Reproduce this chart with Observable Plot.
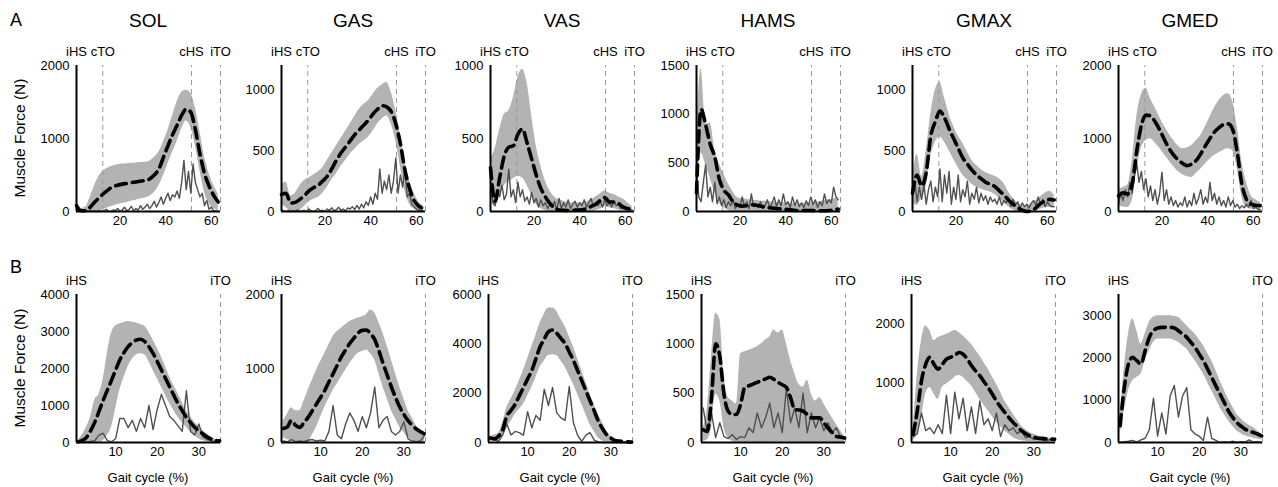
<!DOCTYPE html>
<html><head><meta charset="utf-8">
<script src="https://cdn.jsdelivr.net/npm/d3@7"></script>
<script src="https://cdn.jsdelivr.net/npm/@observablehq/plot@0.6"></script>
<style>
body{margin:0;background:#fff;font-family:"Liberation Sans",Arial,sans-serif;}
#c{position:relative;width:1278px;height:487px;overflow:hidden;background:#fff;}
.abs{position:absolute;white-space:nowrap;line-height:1;color:#000;}
.c{transform:translate(-50%,-50%);}
.rot{transform:translate(-50%,-50%) rotate(-90deg);}
</style></head>
<body><div id="c"></div>
<script>
// ---------- categories / labels ----------
const muscles = ["SOL","GAS","VAS","HAMS","GMAX","GMED"];
const rowLetters = ["A","B"];
const yLabel = "Muscle Force (N)";
const xLabel = "Gait cycle (%)";

// ---------- x grids (gait cycle %) ----------
const xTop = [1,3,5,7,9,11,13,15,17,19,21,23,25,27,29,31,33,35,37,39,41,43,45,47,49,51,53,55,57,59,61,63];
const xTopEmg = [1,2,3,4,5,6,7,8,9,10,11,12,13,14,15,16,17,18,19,20,21,22,23,24,25,26,27,28,29,30,31,32,33,34,35,36,37,38,39,40,41,42,43,44,45,46,47,48,49,50,51,52,53,54,55,56,57,58,59,60,61,62,63];
const xBottom = [1,2,3,4,5,6,7,8,9,10,11,12,13,14,15,16,17,18,19,20,21,22,23,24,25,26,27,28,29,30,31,32,33,34,35];
const xDomainTop = [1,64];
const xDomainBottom = [0.6,35.2];
const xTicksTop = [20,40,60];
const xTicksBottom = [10,20,30];
const eventsTop = [{label:"iHS",x:1,line:false},{label:"cTO",x:12.5,line:true},{label:"cHS",x:51.3,line:true},{label:"iTO",x:64,line:true}];
const eventsBottom = [{label:"iHS",x:0.6,line:false},{label:"iTO",x:35.2,line:true}];

// ---------- y axis extents and ticks ----------
const yMaxTop = [2000,1200,1000,1500,1200,2000];
const yTicksTop = [[0,1000,2000],[0,500,1000],[0,500,1000],[0,500,1000,1500],[0,500,1000],[0,1000,2000]];
const yMaxBottom = [4000,2000,6000,1500,2500,3500];
const yTicksBottom = [[0,1000,2000,3000,4000],[0,1000,2000],[0,2000,4000,6000],[0,500,1000,1500],[0,1000,2000],[0,1000,2000,3000]];

// ---------- Row A (top) series ----------
const solTopMean = [80,10,10,60,130,190,250,300,340,360,375,385,395,405,415,425,445,500,580,740,900,1050,1180,1320,1400,1360,1120,790,520,350,220,130];
const solTopHi   = [100,40,60,200,360,490,560,600,625,640,650,655,660,665,670,675,690,740,810,950,1110,1310,1500,1630,1660,1620,1420,1100,750,520,360,240];
const solTopLo   = [40,0,0,0,0,10,30,55,75,95,110,125,140,155,170,185,210,260,350,490,650,810,960,1130,1240,1150,900,560,260,110,40,10];
const solTopEmg  = [40,20,5,0,5,0,10,0,5,0,15,0,10,30,5,0,20,10,40,5,20,60,10,30,70,10,40,20,80,30,60,100,40,80,140,60,120,200,100,180,250,150,230,200,280,180,400,700,300,550,250,650,400,300,200,250,80,150,30,60,10,5,0];

const gasTopMean = [140,150,70,75,100,130,170,195,215,250,290,350,420,480,530,580,630,670,710,750,800,840,870,860,820,720,560,340,190,90,45,25];
const gasTopHi   = [220,240,130,150,210,255,275,300,325,360,420,480,540,600,660,717,780,840,880,910,960,1010,1040,1060,980,830,640,420,260,150,80,50];
const gasTopLo   = [60,30,0,0,10,40,80,100,115,150,200,260,310,370,420,470,510,550,580,610,660,720,760,785,720,580,370,170,60,20,5,0];
const gasTopEmg  = [10,5,0,10,0,5,0,15,0,5,10,0,20,5,0,10,25,5,10,0,20,10,30,5,15,35,10,20,5,30,20,40,15,50,20,60,30,80,50,120,60,150,100,350,150,250,180,300,150,250,440,150,300,200,350,120,150,60,40,20,10,5,5];

const vasTopMean = [300,70,230,380,440,450,530,565,470,360,250,160,100,55,25,10,8,7,8,10,12,20,35,50,75,95,65,65,55,30,20,15];
const vasTopHi   = [360,430,560,665,690,780,920,975,880,660,450,314,210,140,100,80,70,60,58,58,58,65,80,100,120,140,125,116,100,85,60,35];
const vasTopLo   = [170,30,110,175,205,225,240,230,180,110,50,20,5,0,0,0,0,0,0,0,0,0,0,5,15,35,25,20,10,5,0,0];
const vasTopEmg  = [200,60,40,150,100,180,80,120,290,100,150,60,200,100,150,70,100,50,130,60,90,30,80,40,60,20,50,30,70,10,90,20,60,30,80,20,50,70,30,60,40,80,30,60,90,30,60,40,70,30,80,40,60,30,70,40,50,20,40,30,20,10,10];

const hamsTopMean = [190,1050,890,690,560,330,220,170,100,65,55,60,70,65,55,45,38,33,28,25,20,15,10,10,10,10,8,7,7,10,18,25];
const hamsTopHi   = [750,1470,900,910,640,490,380,280,200,140,130,123,118,112,108,105,100,95,90,88,85,82,80,82,85,88,90,100,110,120,130,140];
const hamsTopLo   = [50,600,480,340,200,90,40,10,0,0,0,0,0,0,0,0,0,0,0,0,0,0,0,0,0,0,0,0,0,0,0,0];
const hamsTopEmg  = [400,150,100,300,480,150,250,100,300,80,150,60,120,40,100,60,120,30,80,40,150,50,100,30,180,50,80,40,100,30,60,120,40,80,150,50,120,60,180,70,100,40,150,60,120,50,90,40,110,60,150,70,120,40,100,60,180,80,120,90,250,150,120];

const gmaxTopMean = [150,300,210,320,620,740,825,770,680,600,520,440,390,340,300,270,240,225,205,170,135,95,60,30,10,0,5,30,65,85,100,95];
const gmaxTopHi   = [234,470,290,500,800,1000,1060,935,800,700,620,560,490,420,380,345,320,305,290,270,230,160,110,70,45,50,60,90,120,150,167,135];
const gmaxTopLo   = [75,50,110,210,450,570,610,570,500,430,360,300,260,225,200,185,170,160,140,110,70,40,15,0,0,0,0,5,18,30,32,25];
const gmaxTopEmg  = [150,250,80,200,100,220,60,180,250,80,200,120,350,80,300,150,330,60,200,100,300,80,180,120,250,60,150,100,200,70,150,90,130,60,120,80,100,60,120,50,90,70,110,40,100,50,80,30,70,40,60,30,70,90,50,120,60,100,40,80,50,40,40];

const gmedTopMean = [215,255,240,380,830,1180,1320,1310,1230,1120,990,870,780,710,660,628,650,700,790,900,1000,1090,1150,1190,1200,1120,800,370,165,100,85,80];
const gmedTopHi   = [307,330,360,700,1300,1600,1690,1546,1420,1290,1170,1070,980,900,860,870,905,970,1041,1160,1290,1420,1520,1590,1614,1500,1150,680,400,215,160,124];
const gmedTopLo   = [80,60,55,150,550,870,970,995,940,870,780,700,620,550,505,480,465,520,583,650,715,770,805,840,858,830,580,200,50,32,32,30];
const gmedTopEmg  = [100,250,150,300,200,400,250,500,650,400,550,300,450,200,350,150,300,100,250,540,150,300,100,200,80,150,60,120,80,200,60,150,80,250,100,180,300,100,200,120,400,150,250,100,200,80,150,60,200,80,150,60,100,40,80,50,100,60,150,40,60,30,30];

// ---------- Row B (bottom) series ----------
const solBotMean = [20,60,140,320,550,840,1140,1410,1680,1960,2230,2430,2590,2700,2770,2790,2730,2590,2410,2190,1960,1730,1500,1270,1050,860,680,540,410,310,230,150,90,60,45];
const solBotHi   = [45,200,410,700,1150,1300,1700,2400,2950,3150,3200,3240,3270,3250,3230,3190,3140,2980,2770,2550,2320,2050,1770,1540,1320,1090,860,700,545,420,320,220,140,90,45];
const solBotLo   = [0,0,0,0,0,0,45,180,410,900,1410,1750,2045,2250,2364,2400,2364,2180,1955,1730,1500,1270,1045,860,680,540,410,290,182,100,45,20,0,0,0];
const solBotEmg  = [0,10,20,30,50,200,250,50,20,100,650,650,400,600,300,650,400,1000,350,900,1300,1000,700,600,450,300,1400,300,200,500,150,80,50,20,0];

const gasBotMean = [190,210,300,230,205,270,340,430,520,610,705,820,930,1045,1160,1250,1340,1410,1480,1515,1520,1470,1390,1240,1070,910,750,610,480,380,295,235,180,145,115];
const gasBotHi   = [295,380,470,430,430,560,705,840,977,1090,1205,1320,1432,1500,1545,1590,1636,1660,1682,1700,1727,1790,1750,1620,1477,1300,1114,930,750,590,432,330,227,180,136];
const gasBotLo   = [68,40,23,10,0,0,0,100,205,340,477,590,705,795,886,977,1068,1140,1205,1230,1250,1200,1114,930,750,590,432,320,205,135,68,30,0,0,0];
const gasBotEmg  = [20,10,40,10,20,10,30,40,20,30,20,150,500,100,50,250,400,300,150,350,200,400,750,200,300,350,150,100,150,280,50,20,10,20,100];

const vasBotMean = [180,150,250,520,1070,1300,1550,1890,2230,2580,2920,3400,3880,4200,4490,4560,4430,4220,4010,3670,3330,2920,2510,2100,1690,1280,860,560,315,180,80,55,40,25,15];
const vasBotHi   = [250,300,380,800,1410,1750,2100,2500,2920,3400,3880,4350,4840,5200,5450,5450,5315,5000,4700,4300,3880,3400,2920,2440,1960,1550,1140,800,450,250,110,70,40,25,15];
const vasBotLo   = [40,40,40,250,590,860,1140,1340,1550,1890,2230,2640,3055,3300,3530,3560,3530,3300,3055,2710,2370,1960,1550,1140,730,450,180,60,0,0,0,0,0,0,0];
const vasBotEmg  = [200,100,50,300,750,300,450,400,300,1250,600,1100,900,2150,1500,2230,1200,1000,900,2270,800,300,50,300,400,100,20,0,0,0,0,0,0,0,0];

const hamsBotMean = [130,113,455,1000,870,490,318,284,284,387,558,575,592,610,627,645,661,640,610,585,558,455,335,330,318,285,250,250,250,200,147,100,62,55,45];
const hamsBotHi   = [150,350,870,1310,1250,700,455,420,390,900,920,935,950,970,1000,1040,1070,1140,1110,1140,1000,830,700,590,560,630,490,420,455,390,320,250,180,120,60];
const hamsBotLo   = [10,27,150,490,420,150,45,10,0,0,0,0,0,0,0,0,0,0,0,0,0,0,0,0,0,0,0,0,0,0,0,0,0,0,0];
const hamsBotEmg  = [350,100,300,50,200,60,40,80,30,60,50,150,100,300,150,250,400,150,300,100,550,200,350,150,500,100,300,150,250,120,200,100,150,60,50];

const gmaxBotMean = [140,535,1040,1320,1440,1320,1240,1320,1410,1440,1470,1520,1490,1410,1300,1210,1130,1030,930,820,700,600,510,420,340,270,200,150,113,90,73,67,62,58,56];
const gmaxBotHi   = [200,1150,1720,1970,1890,1720,1775,1800,1830,1860,1890,1860,1800,1730,1660,1560,1465,1350,1240,1110,990,850,700,590,480,380,280,220,170,140,113,100,85,70,56];
const gmaxBotLo   = [28,140,420,820,930,820,730,930,990,1040,1100,1130,1100,1030,960,850,730,630,535,440,340,270,200,140,85,50,28,20,15,12,10,10,10,10,10];
const gmaxBotEmg  = [100,150,500,200,250,150,300,150,800,150,850,400,750,200,600,150,700,300,400,200,500,100,300,200,250,150,200,80,100,50,80,40,30,50,40];

const gmedBotMean = [395,1300,1855,2013,1934,1855,2170,2486,2644,2707,2723,2723,2723,2707,2644,2565,2486,2370,2249,2090,1934,1740,1539,1340,1144,950,750,600,474,390,316,275,237,200,158];
const gmedBotHi   = [671,1776,2565,2920,2644,2328,2565,2841,2960,3000,3000,3000,3000,2980,2960,2860,2762,2660,2565,2430,2289,2110,1934,1700,1460,1240,1026,850,671,570,474,410,355,280,197];
const gmedBotLo   = [197,750,1223,1460,1539,1618,1934,2170,2368,2447,2447,2447,2447,2410,2368,2290,2210,2070,1934,1780,1618,1420,1223,1030,829,670,513,390,276,210,158,130,103,80,63];
const gmedBotEmg  = [0,20,30,50,10,60,100,300,1050,150,700,200,1100,1350,600,1100,1300,300,200,150,50,600,100,50,0,20,0,30,0,20,10,60,10,20,0];

const topSeries = [
  [solTopMean,solTopLo,solTopHi,solTopEmg],[gasTopMean,gasTopLo,gasTopHi,gasTopEmg],[vasTopMean,vasTopLo,vasTopHi,vasTopEmg],
  [hamsTopMean,hamsTopLo,hamsTopHi,hamsTopEmg],[gmaxTopMean,gmaxTopLo,gmaxTopHi,gmaxTopEmg],[gmedTopMean,gmedTopLo,gmedTopHi,gmedTopEmg]];
const bottomSeries = [
  [solBotMean,solBotLo,solBotHi,solBotEmg],[gasBotMean,gasBotLo,gasBotHi,gasBotEmg],[vasBotMean,vasBotLo,vasBotHi,vasBotEmg],
  [hamsBotMean,hamsBotLo,hamsBotHi,hamsBotEmg],[gmaxBotMean,gmaxBotLo,gmaxBotHi,gmaxBotEmg],[gmedBotMean,gmedBotLo,gmedBotHi,gmedBotEmg]];

// ---------- layout ----------
const FONT = '"Liberation Sans", Arial, sans-serif';
const ML = 56, MR = 6, MT = 30, PW = 144;
const axisXTop = [76,281,490,696,912,1118];
const axisXBottom = [76,281,488,701,911,1118];
const rows = [
  {xs:xTop, xsEmg:xTopEmg, xdomain:xDomainTop, xticks:xTicksTop, events:eventsTop, series:topSeries, ymax:yMaxTop, yticks:yTicksTop, axisX:axisXTop, plotTop:65, plotH:146, mb:26, letterY:20, showX:false},
  {xs:xBottom, xsEmg:xBottom, xdomain:xDomainBottom, xticks:xTicksBottom, events:eventsBottom, series:bottomSeries, ymax:yMaxBottom, yticks:yTicksBottom, axisX:axisXBottom, plotTop:293.5, plotH:148, mb:26, letterY:267, showX:true}
];

const container = document.getElementById("c");
function addText(txt, x, y, size, cls){
  const d = document.createElement("div");
  d.className = "abs " + cls;
  d.style.left = x + "px"; d.style.top = y + "px";
  d.style.fontSize = size + "px"; d.style.fontFamily = FONT;
  d.textContent = txt;
  container.appendChild(d);
}

rows.forEach((r, ri) => {
  addText(rowLetters[ri], 16, r.letterY, 18, "c");
  addText(yLabel, 20, r.plotTop + r.plotH/2, 15.5, "rot");
  muscles.forEach((m, i) => {
    const [mean, lo, hi, emg] = r.series[i];
    const band = r.xs.map((x, k) => ({x, lo: lo[k], hi: hi[k], mean: mean[k]}));
    const emgData = r.xsEmg.map((x, k) => ({x, y: emg[k]}));
    const ymax = r.ymax[i];
    const plot = Plot.plot({
      width: ML + PW + MR, height: MT + r.plotH + r.mb,
      marginLeft: ML, marginRight: MR, marginTop: MT, marginBottom: r.mb,
      style: {fontFamily: FONT, fontSize: "13px", color: "#000", background: "transparent", overflow: "visible"},
      x: {domain: r.xdomain, axis: null, label: null},
      y: {domain: [0, ymax], axis: null, label: null},
      marks: [
        Plot.areaY(band, {x: "x", y1: "lo", y2: "hi", fill: "#b3b3b3", curve: "monotone-x"}),
        Plot.ruleX(r.events.filter(e => e.line), {x: "x", y1: 0, y2: ymax, stroke: "#999", strokeWidth: 1, strokeDasharray: "5,4"}),
        Plot.line(emgData, {x: "x", y: "y", stroke: "#505050", strokeWidth: 1.4}),
        Plot.line(band, {x: "x", y: "mean", stroke: "#000", strokeWidth: 3.6, strokeDasharray: "11,6", curve: "monotone-x"}),
        Plot.ruleX([r.xdomain[0]], {y1: 0, y2: ymax, stroke: "#000", strokeWidth: 2}),
        Plot.ruleY([0], {x1: r.xdomain[0], x2: r.xdomain[1], stroke: "#000", strokeWidth: 2}),
        Plot.axisY({ticks: r.yticks[i], tickSize: 0, tickPadding: 7, tickFormat: d => String(d), label: null}),
        Plot.axisX({ticks: r.xticks, tickSize: 0, tickPadding: 4, tickFormat: d => String(d), label: null}),
        Plot.text(r.events, {x: "x", y: ymax, dy: -14, text: "label", fontSize: 13})
      ]
    });
    plot.style.position = "absolute";
    plot.style.left = (r.axisX[i] - ML) + "px";
    plot.style.top = (r.plotTop - MT) + "px";
    container.appendChild(plot);
    const cx = r.axisX[i] + PW/2;
    if (ri === 0) addText(m, cx, 20, 19, "c");
    if (r.showX) addText(xLabel, cx, 477, 13, "c");
  });
});
</script>
</body></html>
